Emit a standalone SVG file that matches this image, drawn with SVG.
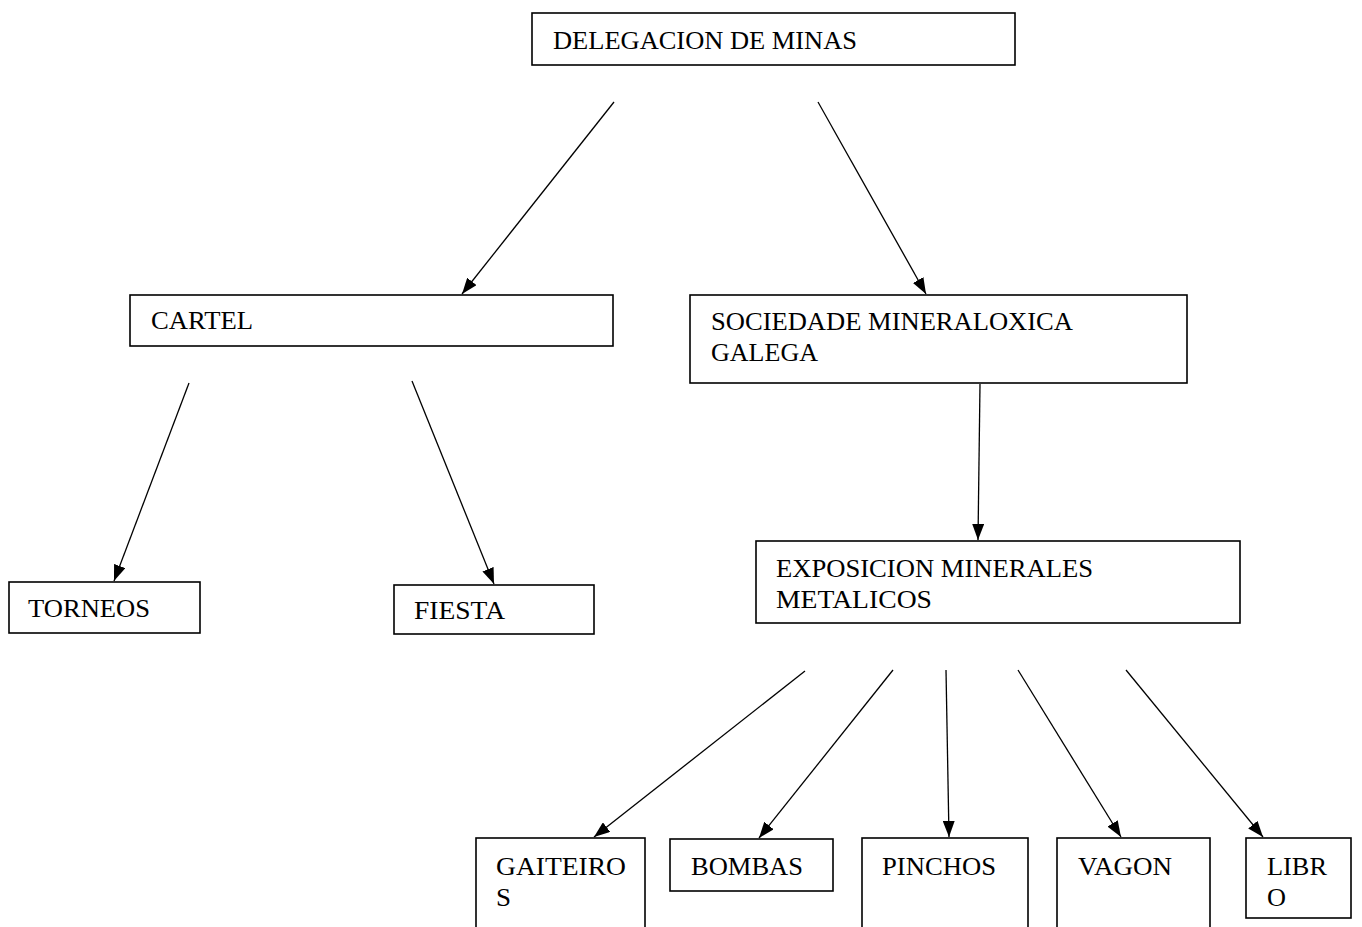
<svg xmlns="http://www.w3.org/2000/svg" width="1362" height="927" viewBox="0 0 1362 927">
<defs>
<style>
.box{fill:#fff;stroke:#000;stroke-width:1.6}
.lbl{font-family:"Liberation Serif","Times New Roman",serif;font-size:25px;fill:#000}
.edge{stroke:#000;stroke-width:1.3;fill:none}
</style>
<marker id="ah" viewBox="0 0 16 12" refX="16" refY="6" markerWidth="16" markerHeight="12" markerUnits="userSpaceOnUse" orient="auto">
<path d="M0,0 L16,6 L0,12 Z" fill="#000"/>
</marker>
</defs>
<rect width="1362" height="927" fill="#fff"/>
<g id="n-delegacion">
<rect class="box" x="532" y="13" width="483" height="52"/>
<text class="lbl" x="553" y="49" textLength="304" lengthAdjust="spacingAndGlyphs">DELEGACION DE MINAS</text>
</g>
<g id="n-cartel">
<rect class="box" x="130" y="295" width="483" height="51"/>
<text class="lbl" x="151" y="329" textLength="102" lengthAdjust="spacingAndGlyphs">CARTEL</text>
</g>
<g id="n-sociedade">
<rect class="box" x="690" y="295" width="497" height="88"/>
<text class="lbl" x="711" y="330" textLength="362" lengthAdjust="spacingAndGlyphs">SOCIEDADE MINERALOXICA</text>
<text class="lbl" x="711" y="361" textLength="107" lengthAdjust="spacingAndGlyphs">GALEGA</text>
</g>
<g id="n-torneos">
<rect class="box" x="9" y="582" width="191" height="51"/>
<text class="lbl" x="28" y="617" textLength="122" lengthAdjust="spacingAndGlyphs">TORNEOS</text>
</g>
<g id="n-fiesta">
<rect class="box" x="394" y="585" width="200" height="49"/>
<text class="lbl" x="414" y="619" textLength="91" lengthAdjust="spacingAndGlyphs">FIESTA</text>
</g>
<g id="n-exposicion">
<rect class="box" x="756" y="541" width="484" height="82"/>
<text class="lbl" x="776" y="577" textLength="317" lengthAdjust="spacingAndGlyphs">EXPOSICION MINERALES</text>
<text class="lbl" x="776" y="608" textLength="156" lengthAdjust="spacingAndGlyphs">METALICOS</text>
</g>
<g id="n-gaiteiros">
<rect class="box" x="476" y="838" width="169" height="100"/>
<text class="lbl" x="496" y="875" textLength="130" lengthAdjust="spacingAndGlyphs">GAITEIRO</text>
<text class="lbl" x="496" y="906" textLength="15" lengthAdjust="spacingAndGlyphs">S</text>
</g>
<g id="n-bombas">
<rect class="box" x="670" y="839" width="163" height="52"/>
<text class="lbl" x="691" y="875" textLength="112" lengthAdjust="spacingAndGlyphs">BOMBAS</text>
</g>
<g id="n-pinchos">
<rect class="box" x="862" y="838" width="166" height="100"/>
<text class="lbl" x="882" y="875" textLength="114" lengthAdjust="spacingAndGlyphs">PINCHOS</text>
</g>
<g id="n-vagon">
<rect class="box" x="1057" y="838" width="153" height="100"/>
<text class="lbl" x="1078" y="875" textLength="94" lengthAdjust="spacingAndGlyphs">VAGON</text>
</g>
<g id="n-libro">
<rect class="box" x="1246" y="838" width="105" height="80"/>
<text class="lbl" x="1267" y="875" textLength="60" lengthAdjust="spacingAndGlyphs">LIBR</text>
<text class="lbl" x="1267" y="906" textLength="19" lengthAdjust="spacingAndGlyphs">O</text>
</g>
<g id="connectors">
<line class="edge" x1="614" y1="102" x2="462" y2="294" marker-end="url(#ah)"/>
<line class="edge" x1="818" y1="102" x2="926" y2="294" marker-end="url(#ah)"/>
<line class="edge" x1="189" y1="383" x2="114" y2="581" marker-end="url(#ah)"/>
<line class="edge" x1="412" y1="381" x2="494" y2="584" marker-end="url(#ah)"/>
<line class="edge" x1="980" y1="384" x2="978" y2="540" marker-end="url(#ah)"/>
<line class="edge" x1="805" y1="671" x2="594" y2="837" marker-end="url(#ah)"/>
<line class="edge" x1="893" y1="670" x2="759" y2="838" marker-end="url(#ah)"/>
<line class="edge" x1="946" y1="670" x2="949" y2="837" marker-end="url(#ah)"/>
<line class="edge" x1="1018" y1="670" x2="1121" y2="837" marker-end="url(#ah)"/>
<line class="edge" x1="1126" y1="670" x2="1263" y2="837" marker-end="url(#ah)"/>
</g>
</svg>
